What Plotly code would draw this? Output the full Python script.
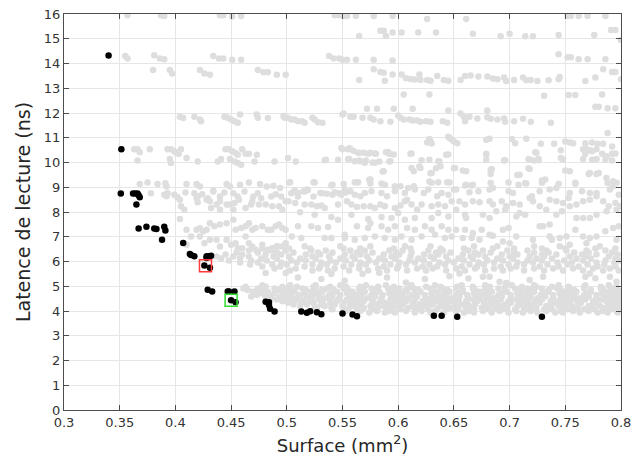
import plotly.graph_objects as go

# ---- Pareto-optimal configurations (surface mm^2, read latency ns) ----
pareto_surface = [0.340, 0.3515, 0.351, 0.362, 0.364, 0.366, 0.367, 0.368, 0.365, 0.367,
                  0.374, 0.381, 0.383, 0.390, 0.391, 0.388, 0.407, 0.413, 0.414, 0.417,
                  0.428, 0.430, 0.432, 0.428, 0.426, 0.431, 0.429, 0.433, 0.447, 0.448,
                  0.453, 0.450, 0.454, 0.481, 0.484, 0.484, 0.485, 0.489, 0.513, 0.518,
                  0.521, 0.527, 0.531, 0.550, 0.559, 0.563, 0.632, 0.639, 0.653, 0.729]
pareto_latency = [14.32, 10.54, 8.75, 8.75, 8.75, 8.75, 8.68, 8.60, 8.30, 7.33,
                  7.40, 7.33, 7.31, 7.40, 7.25, 6.88, 6.75, 6.30, 6.26, 6.21,
                  6.21, 6.21, 6.23, 6.14, 5.84, 5.75, 4.86, 4.79, 4.79, 4.79,
                  4.79, 4.43, 4.35, 4.37, 4.35, 4.24, 4.09, 3.98, 3.98, 3.93,
                  3.99, 3.95, 3.87, 3.90, 3.86, 3.79, 3.81, 3.81, 3.77, 3.77]

# Two highlighted configurations
selected_red = (0.427, 5.83)
selected_green = (0.450, 4.43)

# ---- Explored design space: sparse high-latency configurations ----
explored_high = [
    (0.357, 15.95), (0.387, 15.95), (0.390, 15.92), (0.440, 15.95), (0.443, 15.95), (0.451, 15.9),
    (0.459, 15.92), (0.543, 15.95), (0.547, 15.95), (0.551, 15.92), (0.554, 15.92), (0.562, 15.92),
    (0.578, 15.92), (0.595, 15.92), (0.626, 15.8), (0.661, 15.8), (0.752, 15.92), (0.755, 15.92),
    (0.762, 15.92), (0.770, 15.92), (0.786, 15.92),
    (0.565, 15.11), (0.584, 15.32), (0.587, 15.32), (0.589, 15.11), (0.595, 15.25), (0.603, 15.25),
    (0.618, 15.25), (0.634, 15.25), (0.667, 15.2), (0.692, 15.1), (0.700, 15.2), (0.714, 15.1),
    (0.721, 15.1), (0.744, 15.15), (0.776, 15.15), (0.791, 15.35), (0.795, 15.35), (0.800, 14.95),
    (0.355, 14.3), (0.357, 14.2), (0.381, 14.33), (0.386, 14.2), (0.390, 14.17), (0.434, 14.3),
    (0.439, 14.2), (0.443, 14.2), (0.451, 14.15), (0.459, 14.15), (0.538, 14.3), (0.542, 14.2),
    (0.547, 14.2), (0.550, 14.15), (0.554, 14.15), (0.562, 14.15), (0.578, 14.15), (0.595, 14.12),
    (0.744, 14.37), (0.752, 14.25), (0.755, 14.25), (0.762, 14.17), (0.770, 14.17), (0.786, 14.17),
    (0.380, 13.74), (0.395, 13.74), (0.397, 13.6), (0.422, 13.74), (0.426, 13.6), (0.431, 13.55),
    (0.474, 13.74), (0.479, 13.65), (0.483, 13.65), (0.491, 13.55), (0.499, 13.55), (0.578, 13.77),
    (0.584, 13.66), (0.587, 13.63), (0.595, 13.56), (0.565, 13.33), (0.588, 13.3), (0.603, 13.56),
    (0.607, 13.4), (0.611, 13.37), (0.615, 13.35), (0.619, 13.56), (0.620, 13.33), (0.626, 13.33),
    (0.629, 13.3), (0.635, 13.5), (0.641, 13.33), (0.645, 13.3), (0.656, 13.33), (0.660, 13.49),
    (0.665, 13.52), (0.672, 13.47), (0.680, 13.47), (0.685, 13.39), (0.689, 13.36), (0.695, 13.43),
    (0.697, 13.29), (0.704, 13.33), (0.712, 13.43), (0.715, 13.32), (0.719, 13.33), (0.725, 13.29),
    (0.735, 13.32), (0.744, 13.36), (0.745, 13.45), (0.768, 13.29), (0.777, 13.43), (0.784, 13.77),
    (0.792, 13.66), (0.795, 13.66), (0.800, 13.36),
    (0.605, 12.75), (0.628, 12.75), (0.731, 12.7), (0.753, 12.73), (0.759, 12.73), (0.783, 12.75),
    (0.777, 12.25), (0.780, 12.25), (0.788, 12.19), (0.795, 12.19), (0.572, 12.17), (0.581, 12.17),
    (0.596, 12.17), (0.613, 12.17), (0.645, 12.1), (0.680, 12.1),
    (0.404, 11.85), (0.407, 11.8), (0.417, 11.85), (0.422, 11.74), (0.423, 11.67), (0.444, 11.85),
    (0.447, 11.81), (0.450, 11.74), (0.453, 11.67), (0.456, 11.61), (0.458, 11.94), (0.473, 11.94),
    (0.474, 11.81), (0.483, 11.8), (0.497, 11.88), (0.498, 11.81), (0.501, 11.81), (0.504, 11.74),
    (0.507, 11.74), (0.510, 11.67), (0.514, 11.67), (0.516, 11.61), (0.523, 11.81), (0.525, 11.74),
    (0.528, 11.63), (0.532, 11.61), (0.550, 11.94), (0.551, 11.98), (0.557, 11.85), (0.560, 11.85),
    (0.568, 11.81), (0.575, 11.81), (0.578, 11.74), (0.584, 11.67), (0.593, 11.65), (0.600, 11.9),
    (0.602, 11.81), (0.605, 11.74), (0.610, 11.74), (0.613, 11.7), (0.617, 11.7), (0.620, 11.65),
    (0.625, 11.67), (0.629, 11.65), (0.640, 11.67), (0.644, 11.61), (0.656, 11.98), (0.659, 11.85),
    (0.660, 11.67), (0.664, 11.85), (0.671, 11.78), (0.680, 11.83), (0.683, 11.77), (0.689, 11.74),
    (0.695, 11.78), (0.696, 11.65), (0.704, 11.67), (0.712, 11.77), (0.719, 11.65), (0.737, 11.61),
    (0.628, 10.95), (0.626, 10.81), (0.646, 10.99), (0.650, 10.85), (0.653, 10.78), (0.679, 10.92),
    (0.682, 10.96), (0.702, 10.95), (0.705, 10.78), (0.715, 10.96), (0.728, 10.76), (0.740, 10.76),
    (0.750, 10.85), (0.754, 10.81), (0.757, 10.78), (0.768, 10.78), (0.774, 10.81), (0.779, 10.76),
    (0.784, 10.76), (0.788, 11.19), (0.792, 10.65), (0.629, 10.86), (0.630, 10.77), (0.645, 11.04),
    (0.648, 10.93),
]

# ---- Explored design space: 9.2 to 10.6 ns ----
explored_ten = [
    (0.363, 10.54), (0.366, 10.54), (0.368, 10.41), (0.377, 10.54), (0.366, 10.08), (0.393, 10.54),
    (0.396, 10.54), (0.399, 10.45), (0.401, 10.38), (0.403, 10.35), (0.405, 10.54), (0.395, 10.14),
    (0.396, 9.98), (0.410, 10.18), (0.420, 10.04), (0.438, 10.04), (0.441, 10.14), (0.445, 10.54),
    (0.448, 10.54), (0.451, 10.45), (0.454, 10.38), (0.456, 10.31), (0.460, 10.54), (0.463, 10.35),
    (0.449, 10.14), (0.453, 10.04), (0.456, 9.98), (0.459, 9.91), (0.466, 10.35), (0.473, 10.31),
    (0.471, 10.04), (0.489, 10.04), (0.501, 10.18), (0.508, 10.04), (0.535, 10.11), (0.546, 10.11),
    (0.550, 10.54), (0.555, 10.54), (0.555, 10.14),
    (0.549, 10.59), (0.557, 10.55), (0.560, 10.46), (0.564, 10.39), (0.569, 10.39), (0.575, 10.39),
    (0.579, 10.36), (0.591, 10.42), (0.596, 10.32), (0.612, 10.36), (0.534, 10.09), (0.561, 10.05),
    (0.566, 10.05), (0.570, 9.99), (0.579, 9.99), (0.593, 10.05), (0.587, 9.65), (0.612, 9.78),
    (0.614, 9.65), (0.621, 10.09), (0.620, 9.78), (0.630, 9.58), (0.636, 10.05), (0.638, 9.85),
    (0.645, 10.32),
    (0.556, 10.14), (0.565, 10.08), (0.571, 10.08), (0.577, 10.0), (0.583, 10.04), (0.592, 10.04),
    (0.628, 10.11), (0.637, 10.04), (0.679, 10.11), (0.695, 10.08), (0.717, 10.14), (0.722, 10.08),
    (0.726, 10.14), (0.746, 10.18), (0.766, 10.14), (0.774, 10.11), (0.778, 10.14), (0.786, 10.11),
    (0.792, 10.08), (0.556, 10.58), (0.565, 10.38), (0.573, 10.35), (0.580, 10.35), (0.589, 10.41),
    (0.592, 10.35), (0.611, 10.35), (0.643, 10.31), (0.679, 10.35), (0.723, 10.41), (0.746, 10.49),
    (0.766, 10.54), (0.769, 10.54), (0.774, 10.45), (0.778, 10.54), (0.783, 10.35), (0.787, 10.25),
    (0.792, 10.35), (0.768, 10.35), (0.679, 10.32), (0.696, 10.09), (0.718, 10.12), (0.726, 10.09),
    (0.724, 10.39), (0.748, 10.12), (0.772, 10.5), (0.795, 10.36),
    (0.586, 9.64), (0.619, 9.84), (0.629, 9.57), (0.634, 9.77), (0.650, 9.77), (0.658, 9.68),
    (0.683, 9.70), (0.683, 9.54), (0.707, 9.50), (0.717, 9.77), (0.750, 9.68), (0.771, 9.54),
    (0.778, 9.54), (0.787, 9.37), (0.651, 9.78), (0.661, 9.65), (0.684, 9.74), (0.709, 9.51),
    (0.718, 9.74), (0.732, 9.31), (0.754, 9.65), (0.772, 9.58), (0.780, 9.58), (0.793, 9.24),
]

# ---- Explored design space: 6.5 to 9.3 ns ----
explored_mid = [
    (0.368, 9.13), (0.375, 9.19), (0.384, 9.13), (0.391, 9.16), (0.392, 9.03), (0.410, 9.13),
    (0.419, 9.13), (0.422, 9.03), (0.434, 8.87), (0.446, 9.13), (0.449, 9.03), (0.458, 9.10),
    (0.466, 9.19), (0.476, 9.13), (0.482, 9.03), (0.488, 9.06), (0.494, 8.97), (0.502, 9.19),
    (0.507, 8.87), (0.519, 8.89), (0.525, 9.19), (0.541, 9.10), (0.551, 9.13),
    (0.378, 8.76), (0.390, 8.70), (0.393, 8.76), (0.399, 8.70), (0.402, 8.60), (0.409, 8.79),
    (0.417, 8.76), (0.420, 8.63), (0.424, 8.72), (0.429, 8.56), (0.434, 8.83), (0.440, 8.63),
    (0.444, 8.79), (0.452, 8.76), (0.456, 8.63), (0.462, 8.83), (0.470, 8.63), (0.474, 8.76),
    (0.477, 8.56), (0.486, 8.63), (0.490, 8.72), (0.495, 8.63), (0.504, 8.76), (0.510, 8.63),
    (0.516, 8.83), (0.524, 8.63), (0.532, 8.76), (0.541, 8.70), (0.547, 8.76), (0.553, 8.79),
    (0.392, 8.64), (0.404, 8.50), (0.405, 8.23), (0.408, 8.09), (0.419, 8.57), (0.420, 8.39),
    (0.428, 8.50), (0.431, 8.43), (0.432, 8.16), (0.437, 8.30), (0.440, 8.43), (0.440, 8.09),
    (0.446, 8.30), (0.449, 8.30), (0.452, 8.09), (0.453, 8.36), (0.457, 8.50), (0.463, 8.16),
    (0.468, 8.30), (0.469, 8.43), (0.475, 8.30), (0.481, 8.30), (0.487, 8.23), (0.493, 8.23),
    (0.496, 8.09), (0.499, 8.43),
    (0.404, 7.72), (0.410, 7.28), (0.419, 7.28), (0.422, 7.34), (0.425, 7.22), (0.428, 7.28),
    (0.431, 7.55), (0.435, 7.42), (0.440, 7.49), (0.446, 7.55), (0.452, 7.69), (0.454, 7.28),
    (0.459, 7.35), (0.463, 7.42), (0.466, 7.55), (0.469, 7.28), (0.472, 7.35), (0.478, 7.42),
    (0.483, 7.28), (0.486, 7.28), (0.490, 7.42), (0.493, 7.49), (0.496, 7.35), (0.499, 7.28),
    (0.410, 6.68), (0.414, 7.01), (0.422, 7.01), (0.426, 6.74), (0.431, 6.88), (0.437, 6.88),
    (0.440, 6.61), (0.446, 6.88), (0.450, 6.68), (0.454, 6.74), (0.456, 6.54), (0.460, 6.54),
    (0.463, 7.01), (0.466, 6.74), (0.469, 6.61), (0.472, 6.47), (0.478, 6.68), (0.483, 6.47),
    (0.487, 6.54), (0.492, 6.61), (0.496, 6.61), (0.499, 6.74),
    (0.503, 9.20), (0.524, 9.20), (0.540, 9.07), (0.561, 9.20), (0.564, 9.20), (0.575, 9.31),
    (0.575, 9.15), (0.585, 9.15), (0.597, 9.04), (0.602, 9.04), (0.609, 8.97), (0.614, 9.04),
    (0.630, 9.18), (0.636, 9.20), (0.644, 9.20), (0.563, 9.19), (0.574, 9.30), (0.588, 9.10),
    (0.628, 9.23), (0.646, 9.19), (0.661, 9.10), (0.667, 9.10), (0.683, 9.17), (0.699, 9.19),
    (0.708, 9.10), (0.714, 9.17), (0.729, 9.27), (0.744, 9.14), (0.759, 9.14), (0.788, 9.17),
    (0.506, 8.80), (0.510, 8.77), (0.515, 8.84), (0.518, 8.91), (0.530, 8.77), (0.536, 8.74),
    (0.543, 8.80), (0.549, 8.70), (0.552, 8.91), (0.557, 8.84), (0.561, 8.70), (0.566, 8.64),
    (0.570, 8.77), (0.576, 8.84), (0.585, 8.77), (0.590, 8.64), (0.597, 8.84), (0.606, 8.77),
    (0.608, 8.50), (0.615, 8.91), (0.623, 8.77), (0.627, 8.91), (0.635, 8.64), (0.639, 8.77),
    (0.645, 8.70), (0.650, 8.91),
    (0.5015, 8.43), (0.5075, 8.36), (0.516, 8.30), (0.522, 8.30), (0.527, 8.23), (0.531, 8.26),
    (0.534, 8.16), (0.546, 8.30), (0.554, 8.43), (0.558, 8.30), (0.563, 8.20), (0.569, 8.23),
    (0.575, 8.23), (0.579, 8.16), (0.584, 8.30), (0.588, 8.23), (0.597, 8.16), (0.602, 8.26),
    (0.606, 8.43), (0.612, 8.30), (0.617, 8.09), (0.621, 8.30), (0.630, 8.23), (0.636, 8.30),
    (0.642, 8.23), (0.648, 8.43),
    (0.512, 7.99), (0.525, 7.89), (0.540, 7.80), (0.546, 7.69), (0.558, 7.89), (0.573, 7.72),
    (0.585, 7.80), (0.594, 7.76), (0.600, 7.96), (0.606, 7.69), (0.615, 7.76), (0.630, 7.76),
    (0.636, 7.96), (0.645, 7.82),
    (0.510, 7.42), (0.522, 7.42), (0.528, 7.35), (0.537, 7.39), (0.552, 7.08), (0.563, 7.42),
    (0.573, 7.35), (0.575, 7.55), (0.585, 7.42), (0.591, 7.28), (0.597, 7.42), (0.608, 7.35),
    (0.615, 7.28), (0.624, 7.42), (0.630, 7.28), (0.639, 7.42), (0.645, 7.28),
    (0.5045, 7.01), (0.513, 6.95), (0.534, 6.95), (0.540, 6.95), (0.552, 6.95), (0.561, 6.88),
    (0.570, 6.95), (0.579, 7.01), (0.588, 6.95), (0.597, 6.88), (0.603, 7.01), (0.612, 6.88),
    (0.621, 7.01), (0.633, 7.08), (0.642, 6.95), (0.648, 7.01),
    (0.652, 8.91), (0.660, 9.07), (0.666, 9.07), (0.664, 8.80), (0.672, 8.84), (0.682, 8.91),
    (0.685, 8.97), (0.699, 8.84), (0.703, 8.77), (0.720, 8.64), (0.727, 8.84), (0.736, 8.91),
    (0.742, 8.97), (0.754, 8.77), (0.765, 8.84), (0.772, 8.77), (0.778, 8.77), (0.790, 8.91),
    (0.798, 8.70), (0.793, 9.04), (0.715, 9.15), (0.729, 9.18), (0.759, 9.18), (0.796, 9.18),
    (0.655, 8.43), (0.660, 8.30), (0.667, 8.43), (0.673, 8.39), (0.682, 8.43), (0.685, 8.30),
    (0.693, 8.43), (0.697, 8.23), (0.703, 8.36), (0.709, 8.30), (0.718, 8.57), (0.721, 8.43),
    (0.727, 8.23), (0.733, 8.09), (0.736, 8.50), (0.742, 8.43), (0.748, 8.36), (0.753, 8.57),
    (0.760, 8.30), (0.766, 8.43), (0.772, 8.50), (0.778, 8.64), (0.784, 8.43), (0.789, 8.23),
    (0.795, 8.36),
    (0.652, 8.09), (0.660, 7.89), (0.661, 7.76), (0.676, 7.89), (0.682, 7.76), (0.688, 8.03),
    (0.696, 8.09), (0.706, 7.82), (0.709, 7.96), (0.714, 7.89), (0.730, 7.42), (0.736, 7.49),
    (0.742, 7.89), (0.747, 8.03), (0.754, 8.23), (0.760, 7.76), (0.766, 7.76), (0.772, 7.76),
    (0.778, 7.89), (0.787, 8.03), (0.796, 8.09), (0.799, 8.23),
    (0.652, 7.28), (0.660, 7.28), (0.667, 7.15), (0.675, 7.28), (0.682, 7.08), (0.694, 7.28),
    (0.699, 7.35), (0.706, 7.01), (0.727, 7.42), (0.736, 7.01), (0.738, 6.88), (0.745, 6.95),
    (0.751, 7.01), (0.759, 7.28), (0.766, 7.01), (0.772, 6.95), (0.778, 7.01), (0.786, 7.22),
    (0.793, 7.35), (0.798, 7.42), (0.658, 6.95), (0.666, 6.95), (0.673, 6.88), (0.685, 7.04),
    (0.694, 6.81), (0.700, 6.74), (0.721, 6.88), (0.754, 6.68), (0.769, 6.74), (0.796, 6.88),
]

# ---- Band 5.6 to 6.7 ns: latency row -> surfaces on that row ----
band_upper_rows = [
    (6.62, [0.491, 0.516, 0.548, 0.575, 0.606, 0.629, 0.668, 0.689, 0.722, 0.745, 0.781]),
    (6.53, [0.478, 0.502, 0.521, 0.551, 0.566, 0.596, 0.611, 0.638, 0.659, 0.685, 0.704, 0.729,
            0.750, 0.777, 0.795]),
    (6.44, [0.466, 0.486, 0.499, 0.522, 0.535, 0.557, 0.570, 0.592, 0.604, 0.627, 0.640, 0.663,
            0.676, 0.698, 0.716, 0.733, 0.751, 0.769, 0.786]),
    (6.36, [0.455, 0.474, 0.491, 0.506, 0.528, 0.541, 0.563, 0.577, 0.598, 0.612, 0.634, 0.647,
            0.669, 0.683, 0.704, 0.722, 0.735, 0.758, 0.771, 0.792]),
    (6.28, [0.445, 0.460, 0.481, 0.495, 0.517, 0.530, 0.552, 0.566, 0.587, 0.601, 0.623, 0.636,
            0.658, 0.672, 0.693, 0.707, 0.729, 0.742, 0.765, 0.778, 0.797]),
    (6.20, [0.437, 0.452, 0.466, 0.488, 0.502, 0.523, 0.538, 0.559, 0.572, 0.594, 0.611, 0.629,
            0.643, 0.665, 0.678, 0.700, 0.718, 0.731, 0.754, 0.768, 0.789]),
    (6.12, [0.441, 0.458, 0.477, 0.491, 0.512, 0.526, 0.548, 0.561, 0.583, 0.597, 0.618, 0.632,
            0.654, 0.667, 0.689, 0.703, 0.724, 0.738, 0.760, 0.773, 0.795]),
    (6.04, [0.448, 0.468, 0.482, 0.504, 0.517, 0.539, 0.553, 0.574, 0.588, 0.610, 0.623, 0.645,
            0.659, 0.680, 0.694, 0.716, 0.729, 0.749, 0.766, 0.786, 0.799]),
    (5.96, [0.458, 0.474, 0.495, 0.509, 0.531, 0.544, 0.566, 0.580, 0.601, 0.615, 0.637, 0.650,
            0.672, 0.686, 0.707, 0.721, 0.743, 0.756, 0.778, 0.794]),
    (5.88, [0.467, 0.487, 0.500, 0.523, 0.536, 0.558, 0.571, 0.593, 0.607, 0.628, 0.642, 0.664,
            0.677, 0.699, 0.713, 0.734, 0.752, 0.770, 0.785]),
    (5.80, [0.478, 0.494, 0.516, 0.530, 0.551, 0.565, 0.587, 0.600, 0.622, 0.635, 0.657, 0.671,
            0.692, 0.706, 0.727, 0.744, 0.762, 0.779, 0.795]),
    (5.72, [0.489, 0.508, 0.529, 0.543, 0.565, 0.582, 0.599, 0.617, 0.631, 0.652, 0.669, 0.686,
            0.701, 0.722, 0.739, 0.757, 0.775, 0.790]),
    (5.64, [0.503, 0.523, 0.537, 0.556, 0.573, 0.590, 0.608, 0.625, 0.643, 0.660, 0.678, 0.694,
            0.713, 0.731, 0.748, 0.766, 0.784, 0.798]),
]

# ---- Sparse configurations between the two dense bands ----
explored_gap = [
    (0.481, 5.54), (0.499, 5.54), (0.510, 5.35), (0.531, 5.29), (0.552, 5.22), (0.568, 5.49),
    (0.590, 5.35), (0.607, 5.15), (0.624, 5.29), (0.646, 5.40), (0.655, 5.52), (0.676, 5.38),
    (0.682, 5.38), (0.691, 5.18), (0.697, 5.13), (0.718, 5.25), (0.730, 5.38), (0.768, 5.38),
    (0.772, 5.52), (0.777, 5.32), (0.790, 5.38), (0.796, 5.18), (0.663, 5.31), (0.540, 5.50),
    (0.583, 5.55),
]

# ---- Band 3.9 to 5.05 ns: latency row -> surfaces on that row ----
band_lower_rows = [
    (5.04, [0.478, 0.503, 0.526, 0.548, 0.571, 0.589, 0.612, 0.633, 0.657, 0.678, 0.702, 0.722,
            0.744, 0.768, 0.789]),
    (4.98, [0.463, 0.481, 0.496, 0.509, 0.524, 0.539, 0.553, 0.566, 0.582, 0.596, 0.611, 0.625,
            0.638, 0.653, 0.667, 0.682, 0.696, 0.711, 0.724, 0.738, 0.753, 0.767, 0.782, 0.796]),
    (4.91, [0.461, 0.474, 0.489, 0.500, 0.514, 0.525, 0.536, 0.551, 0.565, 0.576, 0.591, 0.601,
            0.614, 0.629, 0.640, 0.652, 0.667, 0.678, 0.690, 0.705, 0.716, 0.729, 0.743, 0.754,
            0.767, 0.782, 0.792]),
    (4.85, [0.465, 0.479, 0.493, 0.504, 0.517, 0.531, 0.542, 0.555, 0.569, 0.580, 0.592, 0.607,
            0.618, 0.631, 0.644, 0.658, 0.669, 0.681, 0.696, 0.707, 0.720, 0.735, 0.746, 0.758,
            0.773, 0.784, 0.797]),
    (4.78, [0.470, 0.483, 0.497, 0.507, 0.522, 0.532, 0.545, 0.559, 0.570, 0.583, 0.597, 0.608,
            0.620, 0.635, 0.646, 0.658, 0.673, 0.684, 0.697, 0.711, 0.722, 0.735, 0.750, 0.760,
            0.773, 0.788, 0.799]),
    (4.72, [0.477, 0.489, 0.502, 0.516, 0.527, 0.540, 0.554, 0.565, 0.578, 0.592, 0.603, 0.616,
            0.630, 0.641, 0.654, 0.668, 0.679, 0.692, 0.707, 0.717, 0.730, 0.745, 0.756, 0.769,
            0.783, 0.794]),
    (4.65, [0.473, 0.486, 0.500, 0.511, 0.523, 0.538, 0.548, 0.561, 0.576, 0.586, 0.599, 0.613,
            0.624, 0.637, 0.652, 0.662, 0.675, 0.690, 0.701, 0.713, 0.728, 0.739, 0.752, 0.767,
            0.778, 0.791]),
    (4.59, [0.468, 0.481, 0.494, 0.504, 0.518, 0.529, 0.541, 0.556, 0.567, 0.579, 0.594, 0.604,
            0.617, 0.631, 0.643, 0.655, 0.670, 0.681, 0.693, 0.708, 0.719, 0.732, 0.747, 0.758,
            0.771, 0.785, 0.796]),
    (4.52, [0.486, 0.499, 0.509, 0.523, 0.534, 0.547, 0.561, 0.572, 0.585, 0.599, 0.609, 0.625,
            0.636, 0.648, 0.663, 0.673, 0.686, 0.701, 0.712, 0.725, 0.739, 0.751, 0.763, 0.778,
            0.789, 0.799]),
    (4.46, [0.491, 0.504, 0.515, 0.529, 0.539, 0.554, 0.565, 0.577, 0.593, 0.603, 0.615, 0.630,
            0.641, 0.654, 0.668, 0.679, 0.692, 0.706, 0.717, 0.729, 0.745, 0.756, 0.768, 0.783,
            0.794]),
    (4.39, [0.496, 0.507, 0.521, 0.532, 0.545, 0.559, 0.569, 0.584, 0.595, 0.607, 0.622, 0.634,
            0.646, 0.661, 0.671, 0.684, 0.699, 0.711, 0.723, 0.737, 0.747, 0.761, 0.775, 0.787,
            0.799]),
    (4.33, [0.501, 0.513, 0.524, 0.539, 0.551, 0.562, 0.577, 0.588, 0.599, 0.613, 0.626, 0.638,
            0.651, 0.662, 0.677, 0.688, 0.701, 0.715, 0.727, 0.741, 0.753, 0.764, 0.778, 0.792]),
    (4.26, [0.506, 0.518, 0.531, 0.543, 0.557, 0.566, 0.581, 0.593, 0.604, 0.619, 0.631, 0.644,
            0.657, 0.669, 0.683, 0.696, 0.709, 0.721, 0.737, 0.749, 0.762, 0.775, 0.789, 0.798]),
    (4.20, [0.512, 0.525, 0.534, 0.550, 0.561, 0.575, 0.587, 0.601, 0.614, 0.625, 0.641, 0.652,
            0.664, 0.680, 0.691, 0.707, 0.718, 0.733, 0.744, 0.756, 0.771, 0.781, 0.794]),
    (4.13, [0.527, 0.540, 0.556, 0.569, 0.582, 0.596, 0.609, 0.620, 0.636, 0.647, 0.661, 0.675,
            0.687, 0.698, 0.713, 0.724, 0.737, 0.748, 0.761, 0.772, 0.786, 0.799]),
    (4.07, [0.541, 0.551, 0.563, 0.577, 0.590, 0.602, 0.615, 0.627, 0.643, 0.654, 0.668, 0.681,
            0.694, 0.705, 0.716, 0.731, 0.738, 0.752, 0.767, 0.776, 0.791]),
    (4.00, [0.553, 0.566, 0.581, 0.592, 0.607, 0.621, 0.633, 0.652, 0.663, 0.676, 0.691, 0.706,
            0.719, 0.733, 0.746, 0.757, 0.771, 0.784, 0.796]),
    (3.94, [0.574, 0.588, 0.597, 0.615, 0.629, 0.641, 0.659, 0.668, 0.684, 0.699, 0.712, 0.725,
            0.741, 0.748, 0.763, 0.779, 0.788, 0.797]),
]

# Flatten everything explored into one scatter series
gray_x, gray_y = [], []
for pts in (explored_high, explored_ten, explored_mid, explored_gap):
    for sx, ly in pts:
        gray_x.append(sx)
        gray_y.append(ly)
for rows in (band_upper_rows, band_lower_rows):
    for ly, xs in rows:
        gray_x.extend(xs)
        gray_y.extend([ly] * len(xs))

FONT = "DejaVu Sans"
AXIS_COLOR = "#4d4d4d"
GRID_COLOR = "#e6e6e6"

fig = go.Figure()
fig.add_trace(go.Scatter(
    x=gray_x, y=gray_y, mode="markers",
    marker=dict(size=6.5, color="rgb(222,222,222)", line=dict(width=0)),
    hoverinfo="skip", showlegend=False,
))
fig.add_trace(go.Scatter(
    x=pareto_surface, y=pareto_latency, mode="markers",
    marker=dict(size=6.5, color="black", line=dict(width=0)),
    showlegend=False,
))
fig.add_trace(go.Scatter(
    x=[selected_red[0]], y=[selected_red[1]], mode="markers",
    marker=dict(symbol="square-open", size=12, color="#ff3b3b", line=dict(width=1.5)),
    showlegend=False,
))
fig.add_trace(go.Scatter(
    x=[selected_green[0]], y=[selected_green[1]], mode="markers",
    marker=dict(symbol="square-open", size=12, color="#33dd33", line=dict(width=1.5)),
    showlegend=False,
))

axis_common = dict(
    automargin=False,
    showgrid=True, gridcolor=GRID_COLOR, gridwidth=1,
    zeroline=False, showline=True, linecolor=AXIS_COLOR, linewidth=1,
    mirror="ticks", ticks="inside", ticklen=5, tickcolor=AXIS_COLOR, tickwidth=1,
    tickfont=dict(family=FONT, size=13, color="#333333"),
)

fig.update_layout(
    width=638, height=460,
    margin=dict(l=64, r=17, t=14, b=50),
    paper_bgcolor="white", plot_bgcolor="white",
    font=dict(family=FONT),
    xaxis=dict(range=[0.3, 0.8], tick0=0.3, dtick=0.05,
               title=dict(text="Surface (mm<sup>2</sup>)", standoff=10,
                          font=dict(family=FONT, size=18, color="#262626")),
               **axis_common),
    yaxis=dict(range=[0, 16], tick0=0, dtick=1,
               title=dict(text="Latence de lecture (ns)", standoff=8,
                          font=dict(family=FONT, size=19, color="#262626")),
               **axis_common),
)

fig.write_html("out.html")
